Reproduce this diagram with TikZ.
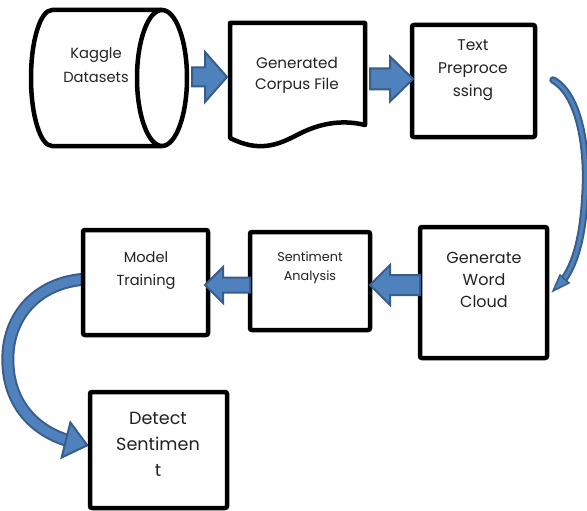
\documentclass[tikz,border=0pt]{standalone}
\usepackage{fontspec}
\setmainfont{Poppins}
\usetikzlibrary{calc}
\definecolor{afill}{HTML}{4F81BD}
\definecolor{aline}{HTML}{385D8A}
\definecolor{txt}{HTML}{222222}
\tikzset{
  box/.style={draw=black, line width=4.5pt, rounded corners=2pt, fill=white, inner sep=0pt},
  outline/.style={draw=black, line width=4.5pt, line join=round, fill=white},
  lbl/.style={align=center, inner sep=0pt, text=txt, font=\fontsize{15}{23}\selectfont},
  blk/.style={fill=afill, draw=aline, line width=2pt, line join=miter},
}
% tail x, tip x, y, shaft half, head half, head length (signed)
\newcommand\myblockarrow[6]{%
  \draw[blk] (#1,#3-#4) -- ({#2-(#6)},#3-#4) -- ({#2-(#6)},#3-#5) -- (#2,#3)
    -- ({#2-(#6)},#3+#5) -- ({#2-(#6)},#3+#4) -- (#1,#3+#4) -- cycle;}
\begin{document}
\begin{tikzpicture}[x=1pt,y=-1pt]
\useasboundingbox (0,0) rectangle (587,511);

% curved arrow right (Text Preprocessing -> Generate Word Cloud)
\coordinate (r0) at (553,80);
\coordinate (r1) at (564,279);
\draw[aline, line width=7.5pt, line cap=round] (r0) .. controls (580,95) and (588,150) .. (585,195) .. controls (583,235) and (576,262) .. (r1);
\draw[afill, line width=3.5pt, line cap=round] (r0) .. controls (580,95) and (588,150) .. (585,195) .. controls (583,235) and (576,262) .. (r1);
\draw[blk, line width=1.5pt] (560,275) -- (553,291) -- (569,283) -- cycle;

% curved arrow left (Model Training -> Detect Sentiment)
\coordinate (l0) at (92,279);
\coordinate (l1) at (66,440);
\draw[aline, line width=13pt] (l0) .. controls (40,279) and (5,315) .. (8,365) .. controls (10,405) and (35,430) .. (l1);
\draw[afill, line width=9pt] (l0) .. controls (40,279) and (5,315) .. (8,365) .. controls (10,405) and (35,430) .. (l1);
\draw[blk] (61.6,457.5) -- (87.3,445.3) -- (70.4,422.5) -- cycle;

% cylinder: Kaggle Datasets
\draw[outline] (162,10) -- (52,10) arc[start angle=270, end angle=90, x radius=21, y radius=68] -- (162,146);
\draw[outline] (162,78) ellipse[x radius=25, y radius=68];
\node[lbl, font=\fontsize{14.7}{24}\selectfont] (kag) at (96,65) {Kaggle\\Datasets};

% document: Generated Corpus File
\draw[outline] (230,23) -- (365,23) -- (365,125) .. controls (340,119) and (318,124) .. (297,135)
  .. controls (276,146) and (258,152) .. (230,138) -- cycle;
\node[lbl, font=\fontsize{15.2}{21}\selectfont] (gen) at (297,75.5) {Generated\\Corpus File};

% boxes
\node[box, minimum width=123pt, minimum height=112pt] (tp) at (473.5,81) {};
\node[lbl, font=\fontsize{15.5}{23}\selectfont] (tpt) at (473,70) {Text\\Preproce\\ssing};

\node[box, minimum width=127pt, minimum height=131pt] (gwc) at (483.5,292.5) {};
\node[lbl, font=\fontsize{16}{22}\selectfont] (gwct) at (484,280) {Generate\\Word\\Cloud};

\node[box, minimum width=120pt, minimum height=98pt] (sa) at (310,281) {};
\node[lbl, font=\fontsize{12.8}{19}\selectfont] (sat) at (310,267.5) {Sentiment\\Analysis};

\node[box, minimum width=125pt, minimum height=105pt] (mt) at (145.5,282.5) {};
\node[lbl, font=\fontsize{14.6}{23}\selectfont] (mtt) at (146,270.5) {Model\\Training};

\node[box, minimum width=137pt, minimum height=116pt] (ds) at (158.5,450) {};
\node[lbl, font=\fontsize{17.6}{26}\selectfont] (dst) at (158,444) {Detect\\Sentimen\\t};

% block arrows
\myblockarrow{192}{227}{77}{9.5}{25}{22}
\myblockarrow{370}{413}{79}{10.5}{22.5}{23}
\myblockarrow{420}{370}{285}{10}{20}{-20}
\myblockarrow{250}{205}{285}{7.5}{18}{-18}
\end{tikzpicture}
\end{document}
